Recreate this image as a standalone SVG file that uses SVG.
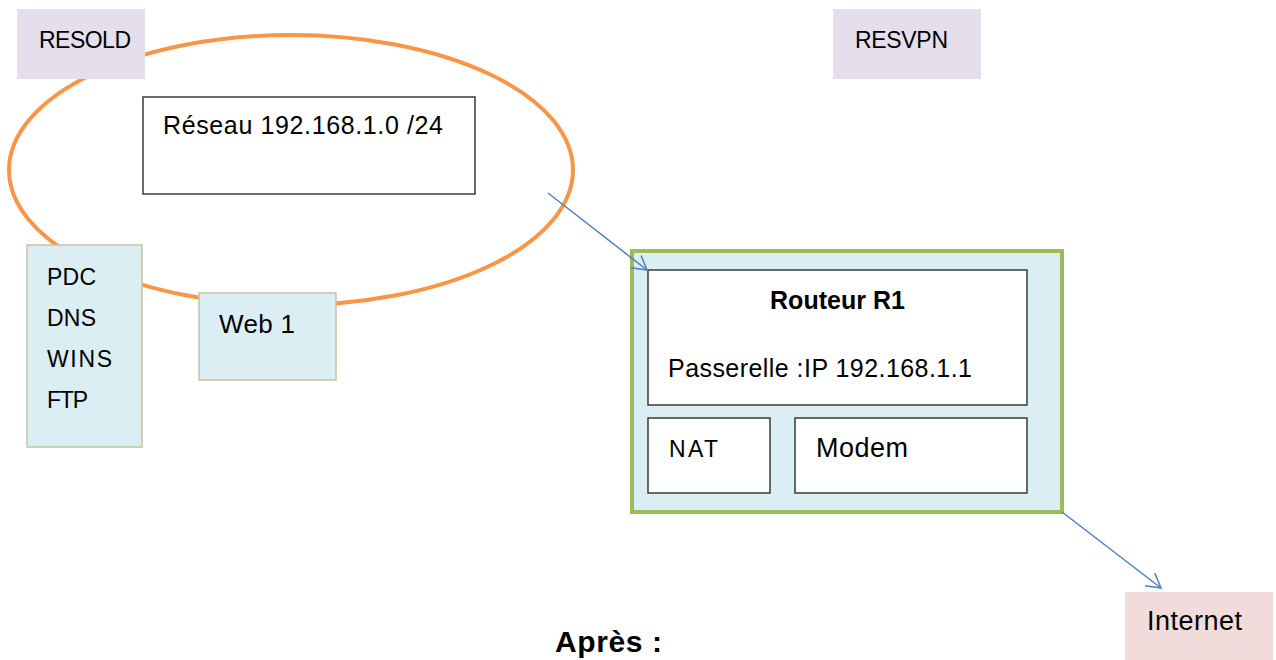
<svg xmlns="http://www.w3.org/2000/svg" width="1276" height="660" viewBox="0 0 1276 660">
<defs>
<style>
text{font-family:"Liberation Sans",Arial,sans-serif;font-size:25px;fill:#000}
.c{font-size:23px}
.l{font-size:27px}
.b{font-weight:bold}
.lbl{fill:#e5dfec}
.srv{fill:#dbeef3;stroke:#c9c29f;stroke-width:1.5}
.box{fill:#fff;stroke:#3a3a3a;stroke-width:1.5}
.conn{stroke:#4f81bd;stroke-width:1.5;fill:none}
</style>
<marker id="arr" markerWidth="20" markerHeight="20" refX="14" refY="8" orient="auto" markerUnits="userSpaceOnUse" viewBox="0 0 20 16">
<path d="M0,0 L14,8 L0,16" fill="none" stroke="#4f81bd" stroke-width="1.5"/>
</marker>
</defs>
<rect width="1276" height="660" fill="#fff"/>
<g id="resold-net">
<ellipse cx="291" cy="170" rx="282" ry="135" fill="none" stroke="#f79646" stroke-width="4"/>
</g>
<g id="resold">
<rect class="lbl" x="17" y="9" width="128" height="70"/>
<text class="c" x="39" y="48" textLength="92">RESOLD</text>
</g>
<g id="resvpn">
<rect class="lbl" x="833" y="9" width="148" height="70"/>
<text class="c" x="855" y="48" textLength="93">RESVPN</text>
</g>
<g id="reseau">
<rect class="box" x="143" y="97" width="332" height="97"/>
<text x="163" y="134" textLength="280">Réseau 192.168.1.0 /24</text>
</g>
<g id="pdc">
<rect class="srv" x="27" y="245" width="115" height="202"/>
<text class="c" x="47" y="285" textLength="49">PDC</text>
<text class="c" x="47" y="326" textLength="49">DNS</text>
<text class="c" x="47" y="367" textLength="65">WINS</text>
<text class="c" x="47" y="408" textLength="41">FTP</text>
</g>
<g id="web1">
<rect class="srv" x="199" y="293" width="137" height="87"/>
<text x="219" y="333" style="font-size:26px" textLength="76">Web 1</text>
</g>
<g id="routeur">
<rect x="632" y="251" width="430" height="261" fill="#dbeef3" stroke="#9bbb59" stroke-width="4"/>
<rect class="box" x="648" y="270" width="379" height="135"/>
<text class="b" x="770" y="309" textLength="135">Routeur R1</text>
<text x="668" y="377" textLength="304">Passerelle :IP 192.168.1.1</text>
<rect class="box" x="648" y="418" width="122" height="75"/>
<text class="c" x="669" y="457" textLength="49">NAT</text>
<rect class="box" x="795" y="418" width="232" height="75"/>
<text class="l" x="816" y="457" textLength="92">Modem</text>
</g>
<g id="internet">
<rect x="1125" y="592" width="148" height="68" fill="#f2dcdb"/>
<text class="l" x="1147" y="630" textLength="95">Internet</text>
</g>
<g id="connectors">
<line class="conn" x1="548" y1="193" x2="647" y2="270" marker-end="url(#arr)"/>
<line class="conn" x1="1062" y1="512" x2="1161" y2="588" marker-end="url(#arr)"/>
</g>
<text class="b" x="555" y="652" style="font-size:30px" textLength="107">Après :</text>
</svg>
